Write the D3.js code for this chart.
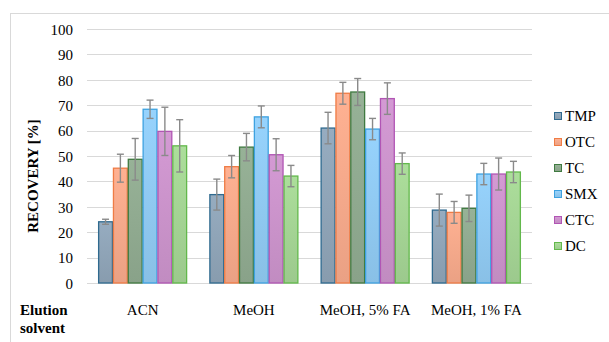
<!DOCTYPE html>
<html><head><meta charset="utf-8">
<script src="https://cdn.jsdelivr.net/npm/d3@7"></script>
<style>html,body{margin:0;padding:0;background:#fff;overflow:hidden}
svg text{font-family:"Liberation Serif","Times New Roman",Times,"Nimbus Roman","Nimbus Roman No9 L",FreeSerif,"Noto Serif","DejaVu Serif",Tinos,Georgia,serif !important;}</style>
</head><body>
<svg id="chart" width="609" height="342"></svg>
<script>
const categories = ["ACN", "MeOH", "MeOH, 5% FA", "MeOH, 1% FA"];
const seriesNames = ["TMP", "OTC", "TC", "SMX", "CTC", "DC"];
const TMP = [24.1, 34.8, 61.0, 28.7];
const OTC = [45.2, 45.8, 74.7, 27.8];
const TC  = [48.7, 53.5, 75.2, 29.4];
const SMX = [68.4, 65.4, 60.6, 42.9];
const CTC = [59.7, 50.5, 72.6, 42.9];
const DC  = [54.0, 42.1, 47.0, 43.7];
const TMP_err = [1.0, 6.1, 6.2, 6.3];
const OTC_err = [5.5, 4.4, 4.3, 4.3];
const TC_err  = [8.2, 5.4, 5.3, 5.2];
const SMX_err = [3.6, 4.3, 4.2, 4.2];
const CTC_err = [9.5, 6.3, 6.2, 6.3];
const DC_err  = [10.3, 4.2, 4.2, 4.2];
const yTicks = [0,10,20,30,40,50,60,70,80,90,100];

const values = [TMP, OTC, TC, SMX, CTC, DC];
const errors = [TMP_err, OTC_err, TC_err, SMX_err, CTC_err, DC_err];
const fills = ["#8ea3b6", "#f4a88a", "#8fa98f", "#8fc8f0", "#c992c9", "#a3d293"];
const strokes = ["#2f6a8f", "#ef7c45", "#3f7a40", "#3ea2e0", "#b155b4", "#62b84b"];

const svg = d3.select("#chart");

svg.append("rect").attr("x", 10.5).attr("y", 13.5).attr("width", 640).attr("height", 360)
  .attr("fill", "none").attr("stroke", "#d9d9d9").attr("stroke-width", 1);

const defs = svg.append("defs");
fills.forEach((c, i) => {
  const g = defs.append("linearGradient").attr("id", "g" + i)
    .attr("x1", 0).attr("y1", 0).attr("x2", 0).attr("y2", 1);
  g.append("stop").attr("offset", "0%").attr("stop-color", d3.color(c).brighter(0.15));
  g.append("stop").attr("offset", "100%").attr("stop-color", d3.color(c).darker(0.12));
});

const x0 = d3.scaleBand().domain(categories).range([87, 532]).paddingInner(0.2).paddingOuter(0.1);
const x1 = d3.scaleBand().domain(seriesNames).range([0, x0.bandwidth()]).padding(0);
const y = d3.scaleLinear().domain([0, 100]).range([283, 29]);

svg.append("g").selectAll("line").data(yTicks).join("line")
  .attr("x1", 87).attr("x2", 532)
  .attr("y1", d => Math.round(y(d)) + 0.5).attr("y2", d => Math.round(y(d)) + 0.5)
  .attr("stroke", "#d9d9d9").attr("stroke-width", 1);

const yAxis = d3.axisLeft(y).tickValues(yTicks).tickSize(0).tickPadding(0);
const ya = svg.append("g").attr("transform", "translate(73,0)").call(yAxis);
ya.select(".domain").remove();
ya.attr("font-size", 15);
ya.selectAll("text").attr("fill", "#000").attr("dy", "0.35em");

const groups = svg.append("g").selectAll("g").data(categories).join("g")
  .attr("transform", d => `translate(${x0(d)},0)`);
seriesNames.forEach((s, si) => {
  groups.append("rect")
    .attr("x", (d, ci) => x1(s) + 0.5)
    .attr("y", (d, ci) => y(values[si][ci]))
    .attr("width", x1.bandwidth() - 1)
    .attr("height", (d, ci) => y(0) - y(values[si][ci]))
    .attr("fill", `url(#g${si})`)
    .attr("stroke", strokes[si]).attr("stroke-width", 1.3);
});
seriesNames.forEach((s, si) => {
  const cx = x1(s) + x1.bandwidth() / 2;
  groups.each(function(d, ci) {
    const g = d3.select(this);
    const v = values[si][ci], e = errors[si][ci];
    const col = "#8a8a8a";
    g.append("line").attr("x1", cx).attr("x2", cx).attr("y1", y(v + e)).attr("y2", y(v - e))
      .attr("stroke", col).attr("stroke-width", 1.4);
    [v + e, v - e].forEach(t => g.append("line").attr("x1", cx - 3.5).attr("x2", cx + 3.5)
      .attr("y1", y(t)).attr("y2", y(t)).attr("stroke", col).attr("stroke-width", 1.4));
  });
});

const xAxis = d3.axisBottom(x0).tickSize(0).tickPadding(0);
const xa = svg.append("g").attr("transform", "translate(0,315)").call(xAxis);
xa.select(".domain").remove();
xa.attr("font-size", 15);
xa.selectAll("text").attr("fill", "#000").attr("dy", 0);

svg.append("text").attr("x", 20).attr("y", 315).text("Elution")
  .attr("font-size", 15).attr("font-weight", "bold");
svg.append("text").attr("x", 20).attr("y", 333).text("solvent")
  .attr("font-size", 15).attr("font-weight", "bold");

svg.append("text").attr("transform", "translate(38,176) rotate(-90)")
  .attr("text-anchor", "middle").text("RECOVERY [%]")
  .attr("font-size", 15).attr("font-weight", "bold");

const lg = svg.append("g").selectAll("g").data(seriesNames).join("g")
  .attr("transform", (d, i) => `translate(554,${116 + i * 26})`);
lg.append("rect").attr("x", 0.5).attr("y", -3.5).attr("width", 7).attr("height", 7)
  .attr("fill", (d, i) => `url(#g${i})`).attr("stroke", (d, i) => strokes[i]).attr("stroke-width", 1);
lg.append("text").attr("x", 11).attr("y", 5).text(d => d)
  .attr("font-size", 15).attr("fill", "#000");
</script>
</body></html>
